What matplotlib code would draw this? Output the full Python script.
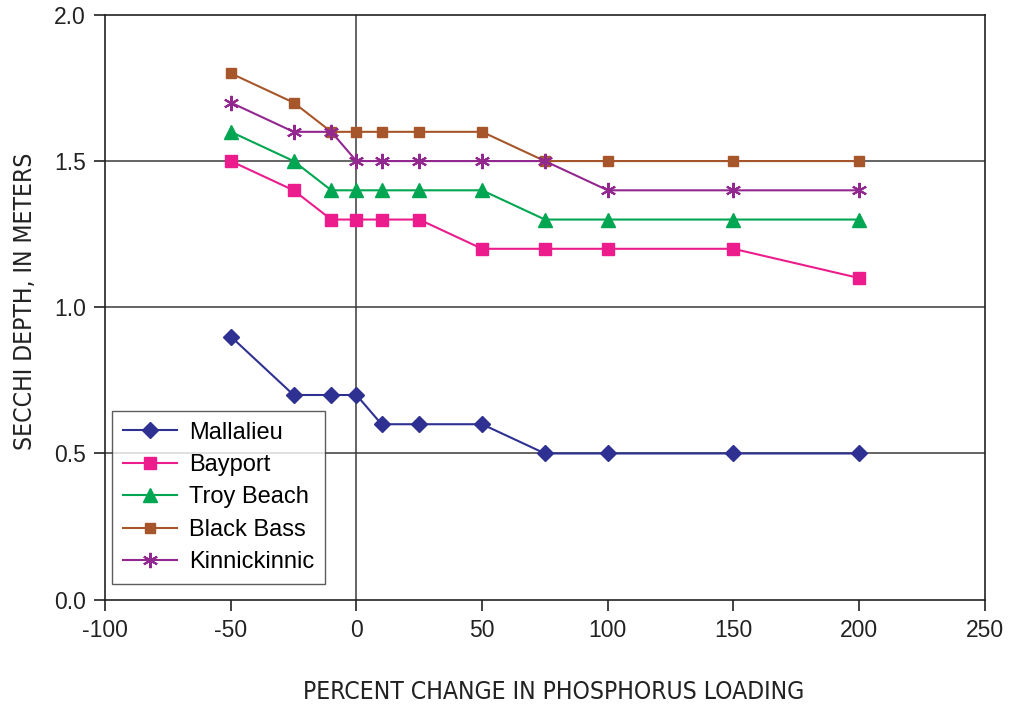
import matplotlib
matplotlib.use("Agg")
import matplotlib.pyplot as plt

# percent change in phosphorus loading
pct_change = [-50, -25, -10, 0, 10, 25, 50, 75, 100, 150, 200]

mallalieu = [0.9, 0.7, 0.7, 0.7, 0.6, 0.6, 0.6, 0.5, 0.5, 0.5, 0.5]
bayport = [1.5, 1.4, 1.3, 1.3, 1.3, 1.3, 1.2, 1.2, 1.2, 1.2, 1.1]
troy_beach = [1.6, 1.5, 1.4, 1.4, 1.4, 1.4, 1.4, 1.3, 1.3, 1.3, 1.3]
black_bass = [1.8, 1.7, 1.6, 1.6, 1.6, 1.6, 1.6, 1.5, 1.5, 1.5, 1.5]
kinnickinnic = [1.7, 1.6, 1.6, 1.5, 1.5, 1.5, 1.5, 1.5, 1.4, 1.4, 1.4]

x_ticks = [-100, -50, 0, 50, 100, 150, 200, 250]
y_ticks = [0.0, 0.5, 1.0, 1.5, 2.0]

plt.rcParams['font.family'] = ['Liberation Sans', 'DejaVu Sans']
plt.rcParams['axes.unicode_minus'] = False

fig = plt.figure(figsize=(10.11, 7.08), dpi=100)
ax = fig.add_axes([0.104, 0.153, 0.870, 0.826])

# reference lines
for yv in [0.5, 1.0, 1.5]:
    ax.axhline(yv, color='#3a3a3a', lw=1.1, zorder=1)
ax.axvline(0, color='#3a3a3a', lw=1.1, zorder=1)

ax.plot(pct_change, mallalieu, color='#2E3192', marker='D', ms=8, lw=1.5, label='Mallalieu', zorder=3)
ax.plot(pct_change, bayport, color='#EC1C8C', marker='s', ms=9, lw=1.5, label='Bayport', zorder=3)
ax.plot(pct_change, troy_beach, color='#00A651', marker='^', ms=10, lw=1.5, label='Troy Beach', zorder=3)
ax.plot(pct_change, black_bass, color='#A6562A', marker='s', ms=7.5, lw=1.5, label='Black Bass', zorder=3)
ax.plot(pct_change, kinnickinnic, color='#92278F', marker=(6, 2, 0), ms=11, mew=1.5, lw=1.5,
        label='Kinnickinnic', zorder=3)

ax.set_xlim(-100, 250)
ax.set_ylim(0, 2.0)
ax.set_xticks(x_ticks)
ax.set_yticks(y_ticks)
ax.set_yticklabels(['%.1f' % v for v in y_ticks])
ax.tick_params(direction='out', length=8, width=1.2, labelsize=16.5, pad=6, colors='#222222')
for s in ax.spines.values():
    s.set_linewidth(1.2)
    s.set_color('#222222')

ax.set_xlabel('PERCENT CHANGE IN PHOSPHORUS LOADING', fontsize=17.7, labelpad=27, color='#222222',
              family='DejaVu Sans', stretch='condensed')
ax.set_ylabel('SECCHI DEPTH, IN METERS', fontsize=17.7, labelpad=12, color='#222222',
              family='DejaVu Sans', stretch='condensed')
ax.xaxis.label.set_x(0.51)
ax.yaxis.label.set_y(0.51)

leg = ax.legend(loc='lower left', bbox_to_anchor=(0.008, 0.027), fontsize=17, frameon=True,
                fancybox=False, edgecolor='#333333', handlelength=2.3, borderpad=0.45,
                labelspacing=0.44, handletextpad=0.5, borderaxespad=0)
leg.get_frame().set_linewidth(1.0)
leg.set_zorder(5)

fig.savefig('out.png', dpi=100)
